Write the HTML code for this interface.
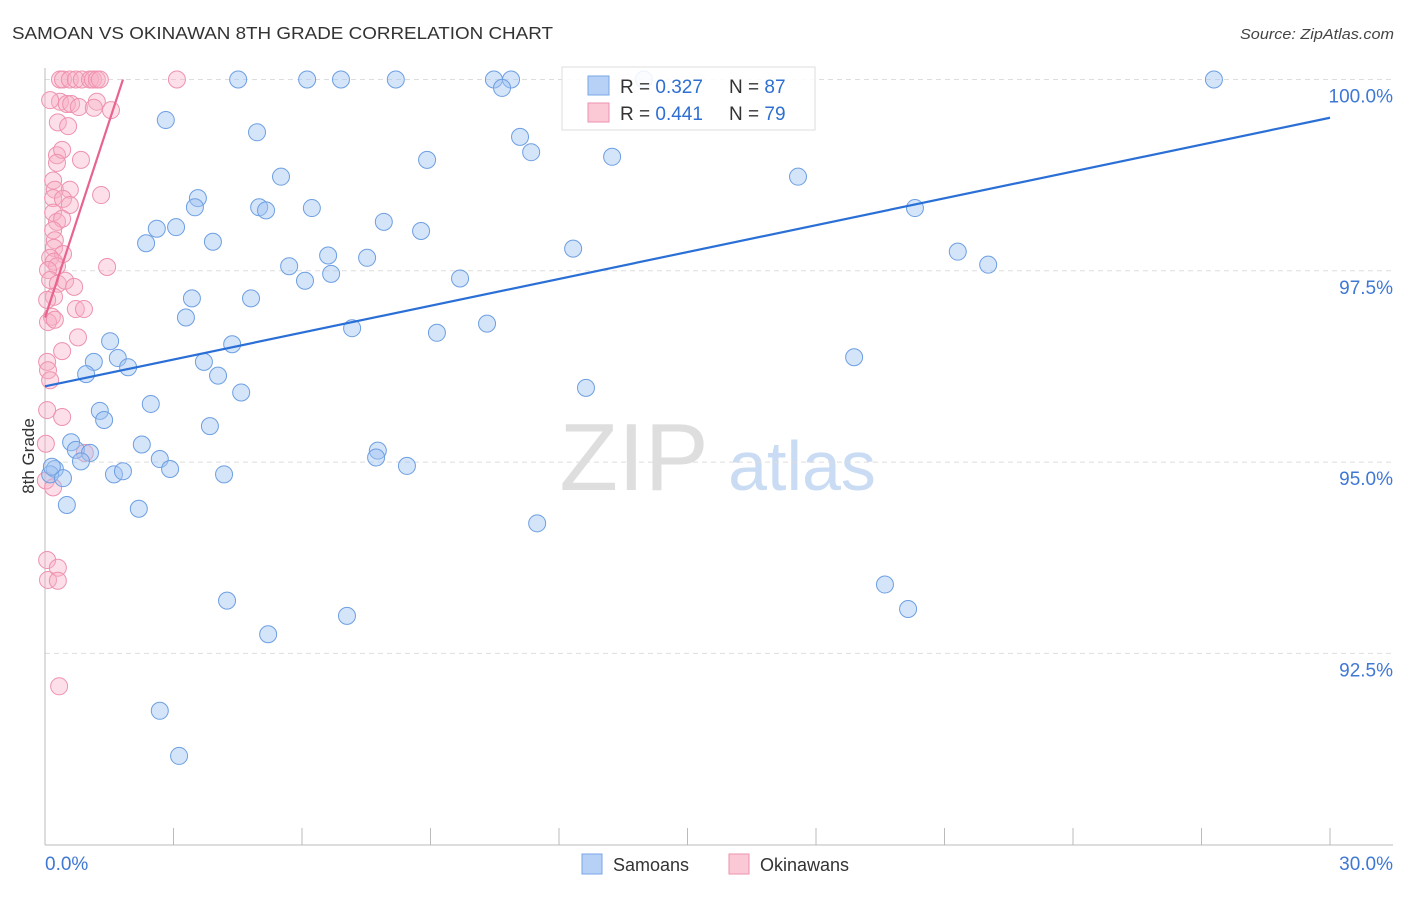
<!DOCTYPE html>
<html><head><meta charset="utf-8"><style>
body{margin:0;background:#fff;font-family:"Liberation Sans",sans-serif;}
svg text{font-family:"Liberation Sans",sans-serif;}
</style></head><body>
<svg id="chart" width="1406" height="892" xmlns="http://www.w3.org/2000/svg">
<text x="12" y="39" font-size="17.5" fill="#333" textLength="541" lengthAdjust="spacingAndGlyphs">SAMOAN VS OKINAWAN 8TH GRADE CORRELATION CHART</text>
<text x="1240" y="39" font-size="15" fill="#444" font-style="italic" textLength="154" lengthAdjust="spacingAndGlyphs">Source: ZipAtlas.com</text>
<g>
<text x="634" y="490" font-size="96" fill="#dedede" text-anchor="middle" font-family="Liberation Serif, serif">ZIP</text>
<text x="802" y="490" font-size="70" fill="#cadcf3" text-anchor="middle">atlas</text>
</g>
<g id="grid"></g>
<g id="axes"></g>
<g id="pts"></g>
<g id="lines"></g>
<text transform="translate(34,456) rotate(-90)" font-size="17" fill="#333" text-anchor="middle">8th Grade</text>
<g>
<rect x="562" y="67" width="253" height="63" fill="#fff" fill-opacity="0.88" stroke="#ddd"/>
<rect x="588" y="76" width="21" height="19" fill="#b6d1f5" stroke="#7aa6e6"/>
<text x="620" y="93" font-size="19" fill="#333">R = <tspan fill="#2d6fd2">0.327</tspan></text>
<text x="729" y="93" font-size="19" fill="#333">N = <tspan fill="#2d6fd2">87</tspan></text>
<rect x="588" y="103" width="21" height="19" fill="#fbc8d6" stroke="#ee92ae"/>
<text x="620" y="120" font-size="19" fill="#333">R = <tspan fill="#2d6fd2">0.441</tspan></text>
<text x="729" y="120" font-size="19" fill="#333">N = <tspan fill="#2d6fd2">79</tspan></text>
</g>
<g>
<rect x="582" y="854" width="20" height="20" fill="#b6d1f5" stroke="#7aa6e6"/>
<text x="613" y="871" font-size="18" fill="#333">Samoans</text>
<rect x="729" y="854" width="20" height="20" fill="#fbc8d6" stroke="#ee92ae"/>
<text x="760" y="871" font-size="18" fill="#333">Okinawans</text>
</g>
</svg>
<script>
const yTicks=[100,97.5,95,92.5];
const yTickLabels=["100.0%","97.5%","95.0%","92.5%"];
const xTickLabels=["0.0%","30.0%"];
const samoanX=[4.51,6.12,6.91,8.19,10.48,10.88,10.67,13.98,27.29,2.82,4.95,11.09,11.35,8.92,13.24,5.51,17.58,3.57,3.50,5.00,5.16,6.23,7.91,8.78,2.61,3.06,2.36,3.92,20.31,12.33,6.61,7.52,21.31,22.02,5.70,6.07,6.68,9.69,3.43,4.81,3.29,7.17,9.15,10.32,1.52,4.37,1.70,1.14,3.71,1.94,0.96,4.04,18.89,4.58,12.63,2.47,1.28,1.38,3.85,0.61,2.26,0.72,1.05,7.77,2.68,0.84,7.73,2.92,8.45,0.23,0.12,0.42,1.61,1.82,4.18,0.51,2.19,11.49,19.61,4.25,20.15,7.05,5.21,2.68,3.13,0.16];
const samoanY=[100,100,100,100,100,100,99.89,100,100,99.47,99.31,99.25,99.05,98.95,98.99,98.73,98.73,98.45,98.33,98.33,98.29,98.32,98.14,98.02,98.05,98.07,97.86,97.88,98.32,97.79,97.70,97.67,97.75,97.58,97.56,97.37,97.46,97.40,97.14,97.14,96.89,96.75,96.69,96.81,96.58,96.54,96.36,96.31,96.31,96.24,96.15,96.13,96.37,95.91,95.97,95.76,95.67,95.55,95.47,95.26,95.23,95.16,95.12,95.15,95.04,95.01,95.06,94.91,94.95,94.91,94.84,94.79,94.84,94.88,94.84,94.44,94.39,94.20,93.40,93.19,93.08,92.99,92.75,91.75,91.16,94.94];
const okiX=[0.35,0.42,0.58,0.72,0.86,1.05,1.12,1.21,1.28,3.08,0.35,0.51,0.61,0.79,1.21,1.14,1.54,0.12,0.30,0.54,0.28,0.40,0.84,0.28,0.19,0.23,0.58,0.19,0.42,0.58,1.31,0.19,0.28,0.40,0.19,0.23,0.21,0.42,0.12,0.21,0.28,0.07,1.45,0.12,0.30,0.47,0.68,0.21,0.05,0.72,0.91,0.16,0.07,0.23,0.77,0.40,0.05,0.07,0.12,0.05,0.40,0.02,0.93,0.02,0.19,0.05,0.30,0.07,0.30,0.33];
const okiY=[100,100,100,100,100,100,100,100,100,100,99.71,99.68,99.68,99.64,99.71,99.63,99.60,99.73,99.44,99.39,99.01,99.08,98.95,98.91,98.68,98.56,98.56,98.45,98.44,98.36,98.49,98.26,98.14,98.18,98.03,97.90,97.80,97.72,97.67,97.62,97.56,97.51,97.55,97.38,97.33,97.37,97.29,97.16,97.12,97.00,97.00,96.90,96.83,96.86,96.63,96.45,96.31,96.20,96.07,95.68,95.59,95.24,95.12,94.76,94.67,93.72,93.62,93.46,93.45,92.07];
const samoanTrend=[[0,95.99],[30,99.50]];
const okiTrend=[[0,96.89],[1.82,100]];
const NS="http://www.w3.org/2000/svg";
const X0=45,X1=1330,Y100=79.5,PX_PER=76.52;
function sx(v){return X0+(v/30)*(X1-X0);}
function sy(v){return Y100+(100-v)*PX_PER;}
function mk(tag,attrs,parent){const e=document.createElementNS(NS,tag);for(const k in attrs)e.setAttribute(k,attrs[k]);parent.appendChild(e);return e;}
const grid=document.getElementById('grid'),axes=document.getElementById('axes'),pts=document.getElementById('pts'),lines=document.getElementById('lines');
yTicks.forEach((t,i)=>{
 const l=mk('line',{x1:X0,x2:1393,y1:sy(t),y2:sy(t),stroke:'#ddd','stroke-dasharray':'5,4'},grid);
 
 
 const tx=mk('text',{x:1393,y:sy(t)+23,'font-size':19,fill:'#3f78d4','text-anchor':'end'},axes);
 tx.textContent=yTickLabels[i];
 
 
});
const ax=mk('line',{x1:X0,x2:1393,y1:845,y2:845,stroke:'#bbb'},axes);


const ay=mk('line',{x1:X0,x2:X0,y1:68,y2:845,stroke:'#bbb'},axes);


for(let i=0;i<=10;i++){const t=mk('line',{x1:sx(i*3),x2:sx(i*3),y1:828,y2:845,stroke:'#bbb'},axes);
 
 }
const xl0=mk('text',{x:45,y:870,'font-size':19,fill:'#3f78d4'},axes);xl0.textContent=xTickLabels[0];


const xl1=mk('text',{x:1393,y:870,'font-size':19,fill:'#3f78d4','text-anchor':'end'},axes);xl1.textContent=xTickLabels[1];


okiX.forEach((v,i)=>{const c=mk('circle',{cx:sx(v),cy:sy(okiY[i]),r:8.5,fill:'rgba(248,175,198,0.4)',stroke:'#ee92ae','stroke-width':1},pts);
 
 });
samoanX.forEach((v,i)=>{const c=mk('circle',{cx:sx(v),cy:sy(samoanY[i]),r:8.5,fill:'rgba(160,196,242,0.45)',stroke:'#6d9fe2','stroke-width':1},pts);
 
 });
const bl=mk('line',{x1:sx(samoanTrend[0][0]),y1:sy(samoanTrend[0][1]),x2:sx(samoanTrend[1][0]),y2:sy(samoanTrend[1][1]),stroke:'#2a6fd6','stroke-width':2.2},lines);


const pl=mk('line',{x1:sx(okiTrend[0][0]),y1:sy(okiTrend[0][1]),x2:sx(okiTrend[1][0]),y2:sy(okiTrend[1][1]),stroke:'#e8638e','stroke-width':2.2},lines);


</script>
</body></html>
